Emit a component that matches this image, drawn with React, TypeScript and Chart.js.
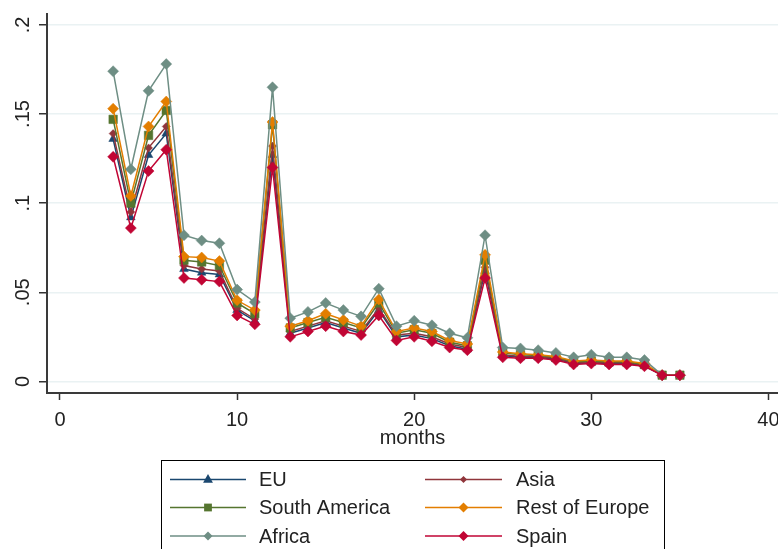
import React, { useEffect, useRef } from "react";
import { Chart, registerables } from "chart.js";

Chart.register(...registerables);

const months = [3, 4, 5, 6, 7, 8, 9, 10, 11, 12, 13, 14, 15, 16, 17, 18, 19, 20, 21, 22, 23, 24, 25, 26, 27, 28, 29, 30, 31, 32, 33, 34, 35];

const euValues = [0.136, 0.092, 0.127, 0.139, 0.063, 0.061, 0.060, 0.040, 0.034, 0.127, 0.027, 0.030, 0.033, 0.030, 0.027, 0.040, 0.025, 0.026, 0.024, 0.020, 0.018, 0.062, 0.0145, 0.0135, 0.0135, 0.0125, 0.010, 0.0105, 0.010, 0.010, 0.0088, 0.0035, 0.0035];
const asiaValues = [0.139, 0.095, 0.131, 0.143, 0.065, 0.063, 0.062, 0.041, 0.035, 0.132, 0.028, 0.031, 0.034, 0.031, 0.028, 0.041, 0.026, 0.027, 0.025, 0.021, 0.019, 0.064, 0.015, 0.014, 0.014, 0.013, 0.0105, 0.011, 0.0105, 0.0105, 0.009, 0.0035, 0.0035];
const southAmericaValues = [0.147, 0.100, 0.138, 0.152, 0.068, 0.067, 0.065, 0.044, 0.038, 0.144, 0.030, 0.033, 0.036, 0.033, 0.030, 0.044, 0.027, 0.029, 0.027, 0.022, 0.020, 0.068, 0.016, 0.015, 0.0145, 0.0135, 0.011, 0.0115, 0.011, 0.011, 0.0095, 0.0035, 0.0035];
const restOfEuropeValues = [0.153, 0.104, 0.143, 0.157, 0.070, 0.0695, 0.0675, 0.0455, 0.040, 0.1455, 0.031, 0.034, 0.038, 0.0345, 0.031, 0.046, 0.028, 0.030, 0.028, 0.023, 0.021, 0.071, 0.0165, 0.0155, 0.015, 0.014, 0.0115, 0.012, 0.0115, 0.0115, 0.010, 0.0035, 0.0035];
const africaValues = [0.174, 0.119, 0.163, 0.178, 0.082, 0.079, 0.0775, 0.0515, 0.0445, 0.165, 0.0355, 0.039, 0.044, 0.040, 0.0365, 0.052, 0.031, 0.034, 0.0315, 0.027, 0.0245, 0.082, 0.019, 0.0185, 0.0175, 0.016, 0.0135, 0.015, 0.0135, 0.0135, 0.012, 0.0035, 0.0035];
const spainValues = [0.126, 0.086, 0.118, 0.130, 0.058, 0.057, 0.056, 0.037, 0.032, 0.120, 0.025, 0.028, 0.031, 0.028, 0.026, 0.037, 0.023, 0.025, 0.0225, 0.019, 0.0175, 0.058, 0.0135, 0.013, 0.013, 0.012, 0.0095, 0.010, 0.0095, 0.0095, 0.0085, 0.0035, 0.0035];

const yTickValues = [0, 0.05, 0.1, 0.15, 0.2];
const yTickLabels = ["0", ".05", ".1", ".15", ".2"];
const xTickValues = [0, 10, 20, 30, 40];
const xTickLabels = ["0", "10", "20", "30", "40"];
const xTitle = "months";

const FONT = '"Liberation Sans", Arial, sans-serif';

type Series = {
  name: string;
  values: number[];
  color: string;
  style: string;
  radius: number;
  legendRadius: number;
  order: number;
};

const series: Series[] = [
  { name: "EU", values: euValues, color: "#1a476f", style: "triangle", radius: 5, legendRadius: 5.5, order: 5 },
  { name: "Asia", values: asiaValues, color: "#90353b", style: "rectRot", radius: 4, legendRadius: 3.5, order: 4 },
  { name: "South America", values: southAmericaValues, color: "#55752f", style: "rect", radius: 6, legendRadius: 5.5, order: 3 },
  { name: "Rest of Europe", values: restOfEuropeValues, color: "#e37e00", style: "rectRot", radius: 5.5, legendRadius: 5, order: 2 },
  { name: "Africa", values: africaValues, color: "#6e8e84", style: "rectRot", radius: 5.5, legendRadius: 4.5, order: 1 },
  { name: "Spain", values: spainValues, color: "#c10534", style: "rectRot", radius: 5.5, legendRadius: 5, order: 0 },
];

function drawMarker(ctx: CanvasRenderingContext2D, style: string, x: number, y: number, r: number, color: string) {
  ctx.save();
  ctx.fillStyle = color;
  ctx.beginPath();
  if (style === "triangle") {
    ctx.moveTo(x, y - r);
    ctx.lineTo(x + r * 0.9, y + r * 0.6);
    ctx.lineTo(x - r * 0.9, y + r * 0.6);
  } else if (style === "rect") {
    const s = r * Math.SQRT1_2;
    ctx.rect(x - s, y - s, 2 * s, 2 * s);
  } else {
    ctx.moveTo(x, y - r);
    ctx.lineTo(x + r, y);
    ctx.lineTo(x, y + r);
    ctx.lineTo(x - r, y);
  }
  ctx.closePath();
  ctx.fill();
  ctx.restore();
}

const AREA_RIGHT = 778;

const decorPlugin = {
  id: "stataDecor",
  afterLayout(chart: any) {
    const xs = chart.scales.x;
    chart.chartArea.right = AREA_RIGHT;
    chart.chartArea.width = AREA_RIGHT - chart.chartArea.left;
    xs.right = AREA_RIGHT;
    xs.width = AREA_RIGHT - xs.left;
    xs.configure();
  },
  afterDraw(chart: any) {
    const ctx: CanvasRenderingContext2D = chart.ctx;
    const xs = chart.scales.x;
    const ys = chart.scales.y;
    const area = chart.chartArea;
    ctx.save();
    ctx.fillStyle = "#222";
    ctx.font = `20px ${FONT}`;
    // y tick labels (rotated)
    yTickValues.forEach((v, i) => {
      const py = ys.getPixelForValue(v);
      ctx.save();
      ctx.translate(29, py);
      ctx.rotate(-Math.PI / 2);
      ctx.textAlign = "center";
      ctx.textBaseline = "alphabetic";
      ctx.fillText(yTickLabels[i], 0, 0);
      ctx.restore();
    });
    // x tick labels
    ctx.textAlign = "center";
    ctx.textBaseline = "alphabetic";
    xTickValues.forEach((v, i) => {
      const px = xs.getPixelForValue(v);
      ctx.fillText(xTickLabels[i], px, 426);
    });
    // x title
    ctx.fillText(xTitle, (area.left + area.right) / 2, 444);

    // legend
    ctx.strokeStyle = "#000";
    ctx.lineWidth = 1;
    ctx.strokeRect(161.5, 460.5, 503, 200);
    const cols = [
      { x0: 170, x1: 246, tx: 259 },
      { x0: 425, x1: 502, tx: 516 },
    ];
    const rows = [479.5, 507.5, 536];
    series.forEach((s, i) => {
      const c = cols[i % 2];
      const ry = rows[Math.floor(i / 2)];
      ctx.strokeStyle = s.color;
      ctx.lineWidth = 1.5;
      ctx.beginPath();
      ctx.moveTo(c.x0, ry);
      ctx.lineTo(c.x1, ry);
      ctx.stroke();
      drawMarker(ctx, s.style, (c.x0 + c.x1) / 2, ry, s.legendRadius, s.color);
      ctx.fillStyle = "#222";
      ctx.textAlign = "left";
      ctx.textBaseline = "alphabetic";
      ctx.font = `20px ${FONT}`;
      ctx.fillText(s.name, c.tx, ry + 6.5);
    });
    ctx.restore();
  },
};

export default function App() {
  const canvasRef = useRef<HTMLCanvasElement | null>(null);

  useEffect(() => {
    const canvas = canvasRef.current;
    if (!canvas) return;
    const chart = new Chart(canvas, {
      type: "line",
      data: {
        datasets: series.map((s) => ({
          label: s.name,
          data: months.map((m, i) => ({ x: m, y: s.values[i] })),
          borderColor: s.color,
          backgroundColor: s.color,
          pointBackgroundColor: s.color,
          pointBorderColor: s.color,
          pointBorderWidth: 0.5,
          pointStyle: s.style as any,
          pointRadius: s.radius,
          borderWidth: 1.5,
          tension: 0,
          fill: false,
          order: s.order,
        })),
      },
      options: {
        animation: false,
        responsive: false,
        devicePixelRatio: 1,
        layout: { padding: { top: 14, left: 0, right: 0, bottom: 0 } },
        plugins: {
          legend: { display: false },
          tooltip: { enabled: false },
        },
        scales: {
          x: {
            type: "linear",
            min: -0.734,
            max: 40.54,
            afterBuildTicks: (scale: any) => {
              scale.ticks = xTickValues.map((v) => ({ value: v }));
            },
            afterFit: (scale: any) => {
              scale.height = 156;
            },
            ticks: { display: false },
            grid: {
              drawOnChartArea: false,
              drawTicks: true,
              tickLength: 7,
              tickColor: "#333",
              tickWidth: 1.5,
            },
            border: { display: true, color: "#3a3a3a", width: 2 },
          },
          y: {
            type: "linear",
            min: -0.0065,
            max: 0.2061,
            afterBuildTicks: (scale: any) => {
              scale.ticks = yTickValues.map((v) => ({ value: v }));
            },
            afterFit: (scale: any) => {
              scale.width = 47;
            },
            ticks: { display: false },
            grid: {
              color: "#eaf2f3",
              lineWidth: 1.5,
              drawTicks: true,
              tickLength: 8,
              tickColor: "#333",
              tickWidth: 1.5,
            },
            border: { display: true, color: "#3a3a3a", width: 2 },
          },
        },
      },
      plugins: [decorPlugin],
    });
    return () => chart.destroy();
  }, []);

  return (
    <div style={{ position: "absolute", left: 0, top: 0, width: 778, height: 549, background: "#fff" }}>
      <canvas ref={canvasRef} width={778} height={549} style={{ display: "block" }} />
    </div>
  );
}
